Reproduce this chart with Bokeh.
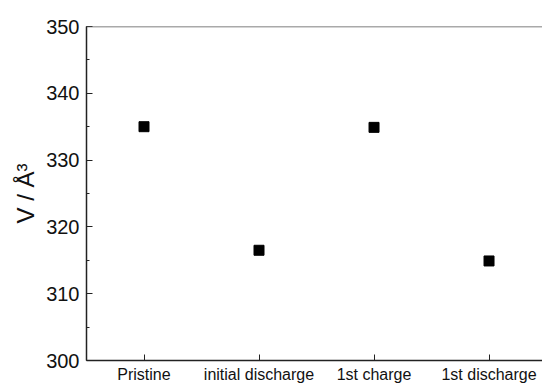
from bokeh.plotting import figure
from bokeh.models import FixedTicker, SingleIntervalTicker, Span, Range1d
from bokeh.embed import file_html
from bokeh.resources import INLINE

categories = ["Pristine", "initial discharge", "1st charge", "1st discharge"]
volumes = [335.0, 316.5, 334.9, 314.9]
y_ticks = [300, 310, 320, 330, 340, 350]

xs = list(range(1, len(categories) + 1))

p = figure(width=542, height=385, output_backend="svg", toolbar_location=None,
           x_range=Range1d(0.5, 4.465), y_range=Range1d(300, 350),
           min_border_left=86, min_border_right=0, min_border_top=26,
           min_border_bottom=0)
p.background_fill_color = "white"
p.border_fill_color = "white"
p.outline_line_color = None
p.xgrid.visible = False
p.ygrid.visible = False

p.scatter(xs, volumes, marker="square", size=10, color="black")

font = "Liberation Sans"

xa = p.xaxis[0]
xa.ticker = FixedTicker(ticks=xs)
xa.major_label_overrides = {i: c for i, c in zip(xs, categories)}
xa.major_tick_in = 6
xa.major_tick_out = 0
xa.minor_tick_line_color = None
xa.axis_line_width = 1.5
xa.axis_line_color = "#222222"
xa.major_tick_line_color = "#222222"
xa.major_label_text_font = font
xa.major_label_text_font_size = "16px"
xa.major_label_text_color = "#111111"
xa.major_label_text_line_height = 0.5
xa.major_label_standoff = 5

ya = p.yaxis[0]
ya.ticker = SingleIntervalTicker(interval=10, num_minor_ticks=2)
ya.major_tick_in = 6
ya.major_tick_out = 0
ya.minor_tick_in = 3
ya.minor_tick_out = 0
ya.axis_line_width = 1.5
ya.axis_line_color = "#222222"
ya.major_tick_line_color = "#222222"
ya.minor_tick_line_color = "#222222"
ya.major_label_text_font = font
ya.major_label_text_font_size = "20px"
ya.major_label_text_color = "#111111"
ya.major_label_standoff = 7
ya.axis_label = "V / Å³"
ya.axis_label_text_font = font
ya.axis_label_text_font_size = "24px"
ya.axis_label_text_font_style = "normal"
ya.axis_label_text_color = "#111111"
ya.axis_label_standoff = 4

top = Span(location=350, dimension="width", line_color="#555555", line_width=1.5)
p.add_layout(top)

open("out.html", "w").write(file_html(p, INLINE))
